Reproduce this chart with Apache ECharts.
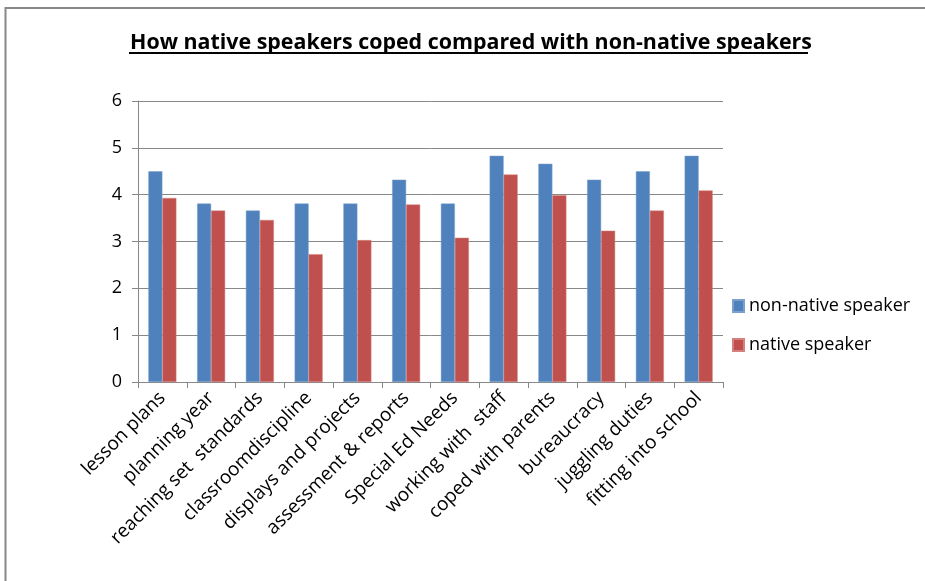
<!DOCTYPE html>
<html>
<head>
<meta charset="utf-8">
<script src="https://cdn.jsdelivr.net/npm/echarts@6/dist/echarts.min.js"></script>
<style>html,body{margin:0;padding:0;background:#fff}#c{width:925px;height:581px}</style>
</head>
<body>
<div id="c"></div>
<script>
var categories = ['lesson plans','planning year','reaching set  standards','classroomdiscipline','displays and projects','assessment & reports','Special Ed Needs','working with  staff','coped with parents','bureaucracy','juggling duties','fitting into school'];
var nonNative = [4.5, 3.81, 3.66, 3.81, 3.81, 4.32, 3.81, 4.83, 4.66, 4.32, 4.5, 4.83];
var native = [3.93, 3.66, 3.46, 2.73, 3.03, 3.79, 3.08, 4.43, 3.99, 3.23, 3.66, 4.09];
var yTicks = [0, 1, 2, 3, 4, 5, 6];

var chart = echarts.init(document.getElementById('c'), null, {renderer: 'canvas'});
var font = '"Open Sans", Lato, sans-serif';
chart.setOption({
  animation: false,
  backgroundColor: '#fff',
  title: {
    text: 'How native speakers coped compared with non-native speakers',
    left: 466, top: 27, textAlign: 'center',
    textStyle: {fontFamily: font, fontWeight: 'bold', fontSize: 21.4, color: '#000'}
  },
  graphic: [
    {type: 'rect', shape: {x: 5.5, y: 8, width: 1000, height: 1000}, style: {fill: 'none', stroke: '#888', lineWidth: 2}, silent: true},
    {type: 'line', shape: {x1: 129, y1: 53, x2: 808, y2: 53}, style: {stroke: '#000', lineWidth: 2}, silent: true}
  ],
  legend: {
    orient: 'vertical', left: 727, top: 292, itemWidth: 11, itemHeight: 12, itemGap: 21,
    icon: 'rect',
    textStyle: {fontFamily: font, fontSize: 18, color: '#000', padding: [0,0,0,0]}
  },
  grid: {left: 138, right: 202, top: 101, bottom: 199, containLabel: false},
  xAxis: {
    type: 'category', data: categories,
    axisLine: {lineStyle: {color: '#888', width: 1}},
    axisTick: {show: true, length: 6, lineStyle: {color: '#888'}},
    axisLabel: {rotate: 45, interval: 0, fontFamily: font, fontSize: 19, color: '#000', margin: 13}
  },
  yAxis: {
    type: 'value', min: yTicks[0], max: yTicks[yTicks.length-1], interval: 1,
    axisLine: {show: true, lineStyle: {color: '#888'}},
    axisTick: {show: true, length: 6, lineStyle: {color: '#888'}},
    splitLine: {lineStyle: {color: '#888'}},
    axisLabel: {fontFamily: font, fontSize: 18, color: '#000', margin: 16}
  },
  series: [
    {name: 'non-native speaker', type: 'bar', data: nonNative, barWidth: 14, barGap: '0%',
     itemStyle: {color: '#4F81BD', borderColor: '#7BA0CD', borderWidth: 0.5}},
    {name: 'native speaker', type: 'bar', data: native, barWidth: 14, barGap: '0%',
     itemStyle: {color: '#C0504D', borderColor: '#D3807E', borderWidth: 0.5}}
  ]
});
</script>
</body>
</html>
